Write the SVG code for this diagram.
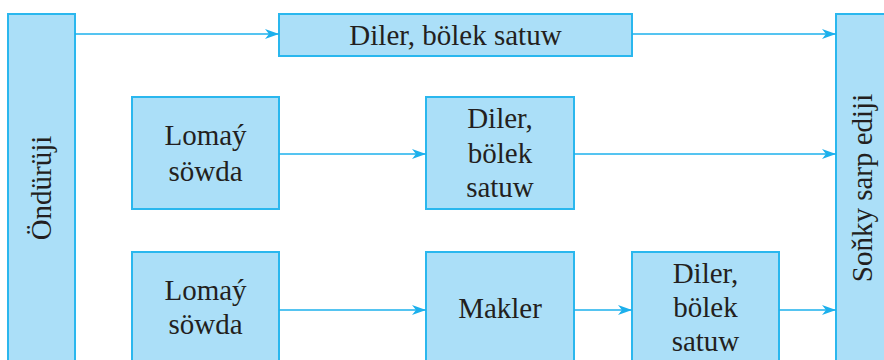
<svg xmlns="http://www.w3.org/2000/svg" width="884" height="360" viewBox="0 0 884 360">
<style>
.box{fill:#abdff8;stroke:#2ab7ee;stroke-width:2}
.t{font-family:"Liberation Serif","Times New Roman",serif;font-size:29px;fill:#231f20;text-anchor:middle}
.c{stroke:#1cb0ec;stroke-width:1.6;fill:none;marker-end:url(#ah)}
</style>
<defs>
<marker id="ah" markerWidth="14" markerHeight="10" refX="14" refY="5" orient="auto" markerUnits="userSpaceOnUse">
<path d="M0,0 L14,5 L0,10 L4,5 z" fill="#1cb0ec"/>
</marker>
</defs>
<rect width="884" height="360" fill="#fff"/>
<g id="onduriji">
<rect class="box" x="8" y="14" width="67" height="360"/>
<text class="t" transform="translate(51,188) rotate(-90)">Öndürüji</text>
</g>
<g id="sonky">
<rect class="box" x="836" y="14" width="60" height="360"/>
<text class="t" transform="translate(872,188) rotate(-90)">Soňky sarp ediji</text>
</g>
<g id="diler-top">
<rect class="box" x="279" y="14" width="353" height="42"/>
<text class="t" x="455.5" y="45">Diler, bölek satuw</text>
</g>
<g id="lomay-mid">
<rect class="box" x="132" y="97" width="147" height="112"/>
<text class="t" x="205.5" y="145">Lomaý</text>
<text class="t" x="205.5" y="181">söwda</text>
</g>
<g id="diler-mid">
<rect class="box" x="426" y="97" width="148" height="112"/>
<text class="t" x="500" y="128">Diler,</text>
<text class="t" x="500" y="163">bölek</text>
<text class="t" x="500" y="197">satuw</text>
</g>
<g id="lomay-bot">
<rect class="box" x="132" y="252" width="147" height="120"/>
<text class="t" x="205.5" y="300">Lomaý</text>
<text class="t" x="205.5" y="334">söwda</text>
</g>
<g id="makler">
<rect class="box" x="426" y="252" width="148" height="120"/>
<text class="t" x="500" y="318">Makler</text>
</g>
<g id="diler-bot">
<rect class="box" x="632" y="252" width="147" height="120"/>
<text class="t" x="705.5" y="283">Diler,</text>
<text class="t" x="705.5" y="317">bölek</text>
<text class="t" x="705.5" y="351">satuw</text>
</g>
<g id="connectors">
<line class="c" x1="75" y1="34" x2="279" y2="34"/>
<line class="c" x1="632" y1="34" x2="836" y2="34"/>
<line class="c" x1="279" y1="154" x2="426" y2="154"/>
<line class="c" x1="574" y1="154" x2="836" y2="154"/>
<line class="c" x1="279" y1="310" x2="426" y2="310"/>
<line class="c" x1="574" y1="310" x2="632" y2="310"/>
<line class="c" x1="779" y1="310" x2="836" y2="310"/>
</g>
</svg>
